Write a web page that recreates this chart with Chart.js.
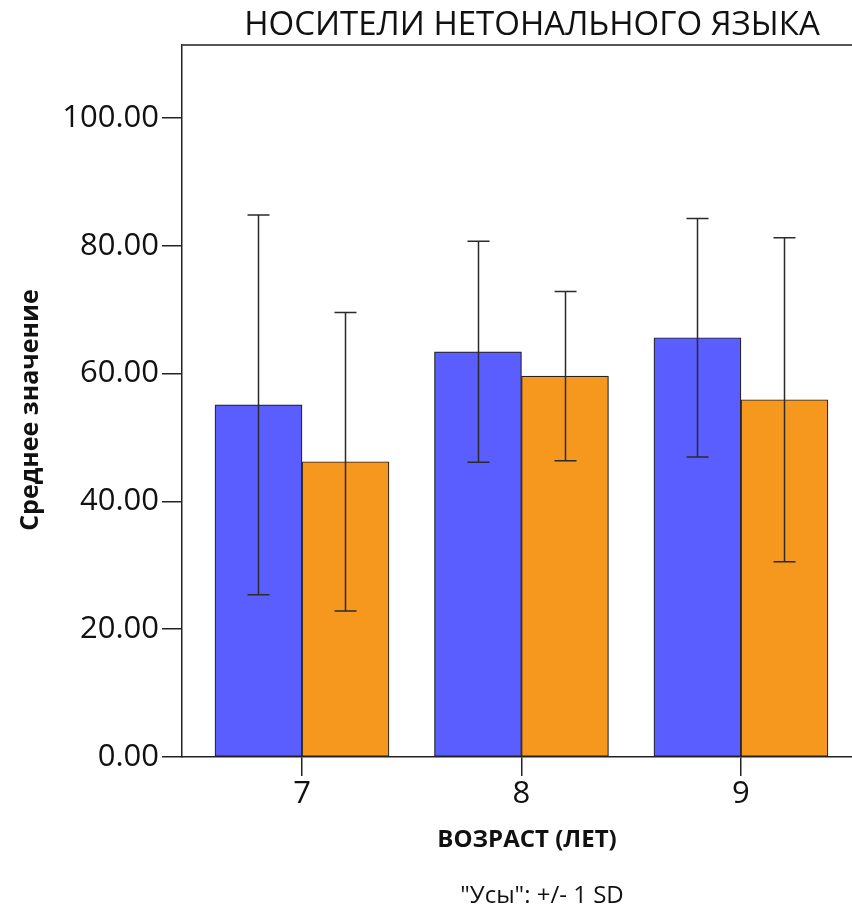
<!DOCTYPE html>
<html lang="ru">
<head>
<meta charset="utf-8">
<title>Носители нетонального языка</title>
<script src="https://cdn.jsdelivr.net/npm/chart.js@4"></script>
<style>
  html, body { margin: 0; padding: 0; background: #fff; overflow: hidden; }
  #wrap { width: 870px; height: 910px; }
</style>
</head>
<body>
<div id="wrap"><canvas id="chart" width="870" height="910"></canvas></div>
<script>
// age groups on the x axis
const ages = [7, 8, 9];
// y tick values
const yTicks = [0, 20, 40, 60, 80, 100];
// mean and +/- 1 SD per group
const meansBlue = [55.1, 63.4, 65.6];
const sdBlue = [29.7, 17.3, 18.65];
const meansOrange = [46.2, 59.6, 55.9];
const sdOrange = [23.35, 13.25, 25.35];

const titleText = "НОСИТЕЛИ НЕТОНАЛЬНОГО ЯЗЫКА";
const xTitle = "ВОЗРАСТ (ЛЕТ)";
const yTitle = "Среднее значение";
const footnote = "\"Усы\": +/- 1 SD";

const FONT = "'Open Sans', 'DejaVu Sans', sans-serif";

const sdLists = [sdBlue, sdOrange];
const meanLists = [meansBlue, meansOrange];

// whiskers: mean +/- sd, drawn through the y scale
const errorBars = {
  id: "errorBars",
  afterDatasetsDraw(chart) {
    const ctx = chart.ctx;
    const y = chart.scales.y;
    ctx.save();
    ctx.strokeStyle = "#2b2b2b";
    ctx.lineWidth = 1.5;
    chart.data.datasets.forEach((ds, i) => {
      const meta = chart.getDatasetMeta(i);
      meta.data.forEach((bar, j) => {
        const m = meanLists[i][j], s = sdLists[i][j];
        const top = y.getPixelForValue(m + s);
        const bot = y.getPixelForValue(m - s);
        const cx = Math.round(bar.x) + 0.5;
        ctx.beginPath();
        ctx.moveTo(cx, top); ctx.lineTo(cx, bot);
        ctx.moveTo(cx - 11, top); ctx.lineTo(cx + 11, top);
        ctx.moveTo(cx - 11, bot); ctx.lineTo(cx + 11, bot);
        ctx.stroke();
      });
    });
    ctx.restore();
  }
};

// frame top line + titles
const texts = {
  id: "texts",
  afterDraw(chart) {
    const ctx = chart.ctx;
    const a = chart.chartArea;
    ctx.save();
    ctx.strokeStyle = "#555";
    ctx.lineWidth = 2;
    ctx.beginPath();
    ctx.moveTo(a.left, a.top);
    ctx.lineTo(a.right, a.top);
    ctx.stroke();

    ctx.fillStyle = "#111";
    ctx.textAlign = "center";
    ctx.textBaseline = "middle";
    ctx.font = "33px " + FONT;
    ctx.fillText(titleText, 532, 26);

    ctx.font = "bold 24px " + FONT;
    ctx.fillText(xTitle, 527, 840);

    ctx.font = "24px " + FONT;
    ctx.fillText(footnote, 542, 896);

    ctx.translate(31, 410);
    ctx.rotate(-Math.PI / 2);
    ctx.font = "bold 25px " + FONT;
    ctx.fillText(yTitle, 0, 0);
    ctx.restore();
  }
};

new Chart(document.getElementById("chart"), {
  type: "bar",
  data: {
    datasets: [
      {
        label: "blue",
        data: ages.map((a, i) => ({ x: a, y: meansBlue[i] })),
        backgroundColor: "#5b5eff",
        borderColor: "#222",
        borderWidth: 1.2,
        borderSkipped: false
      },
      {
        label: "orange",
        data: ages.map((a, i) => ({ x: a, y: meansOrange[i] })),
        backgroundColor: "#f7981e",
        borderColor: "#222",
        borderWidth: 1.2,
        borderSkipped: false
      }
    ]
  },
  options: {
    responsive: false,
    animation: false,
    barThickness: 87,
    layout: { padding: { top: 45, right: 9, left: 0, bottom: 0 } },
    plugins: {
      legend: { display: false },
      tooltip: { enabled: false }
    },
    scales: {
      x: {
        type: "linear",
        offset: false,
        min: 6.4533,
        max: 9.547,
        afterBuildTicks: (s) => { s.ticks = ages.map(v => ({ value: v })); },
        afterFit: (s) => { s.height = 153; },
        grid: { offset: false, drawOnChartArea: false, drawTicks: true, tickLength: 19, color: "#222", lineWidth: 1.5 },
        border: { color: "#222", width: 1.5 },
        ticks: { color: "#111", font: { family: FONT, size: 31 }, padding: 0 }
      },
      y: {
        min: 0,
        max: 111.4,
        afterBuildTicks: (s) => { s.ticks = yTicks.map(v => ({ value: v })); },
        afterFit: (s) => { s.width = 182; },
        grid: { drawOnChartArea: false, drawTicks: true, tickLength: 20, color: "#222", lineWidth: 1.5 },
        border: { color: "#222", width: 1.5 },
        ticks: {
          color: "#111",
          font: { family: FONT, size: 31 },
          padding: 3,
          callback: (v) => Number(v).toFixed(2)
        }
      }
    }
  },
  plugins: [errorBars, texts]
});
</script>
</body>
</html>
